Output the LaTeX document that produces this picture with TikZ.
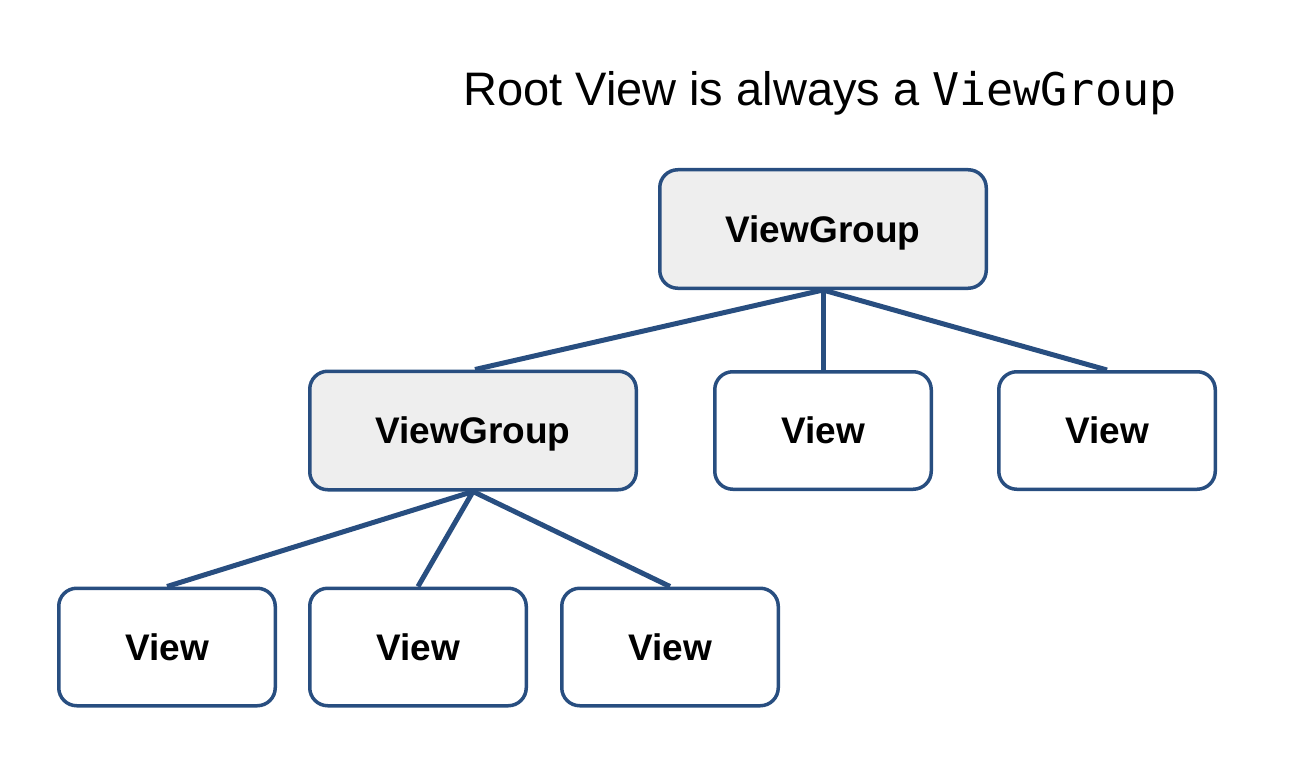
\documentclass[tikz,border=0pt]{standalone}
\usepackage{fontspec}
\setmainfont{Liberation Sans}
\newfontfamily\monofont{DejaVu Sans Mono}
\definecolor{edgeblue}{RGB}{40,78,128}
\definecolor{boxgray}{RGB}{238,238,238}
\begin{document}
\begin{tikzpicture}[x=1pt,y=-1pt,
  box/.style={draw=edgeblue, line width=3.5pt, rounded corners=18pt, font=\fontsize{37}{44}\selectfont\bfseries, inner sep=0pt, text depth=0pt},
  groupbox/.style={box, fill=boxgray, minimum width=326.5pt, minimum height=118.5pt},
  viewbox/.style={box, fill=white, minimum width=216.5pt, minimum height=117.5pt},
  link/.style={draw=edgeblue, line width=5pt}]
\useasboundingbox (0,0) rectangle (1305,770);
\node[anchor=base west, font=\fontsize{47}{56}\selectfont, inner sep=0pt] (title) at (463,106) {Root View is always a {\monofont\fontsize{45}{56}\selectfont ViewGroup}};
\node[groupbox] (root) at (823,229) {ViewGroup};
\node[groupbox] (vg) at (473,430.5) {ViewGroup};
\node[viewbox] (v1) at (823,430.5) {View};
\node[viewbox] (v2) at (1107,430.5) {View};
\node[viewbox] (b1) at (167,647) {View};
\node[viewbox] (b2) at (418,647) {View};
\node[viewbox] (b3) at (670,647) {View};
\draw[link] (root.south) -- ([xshift=2pt]vg.north);
\draw[link] (root.south) -- (v1.north);
\draw[link] (root.south) -- (v2.north);
\draw[link] (vg.south) -- (b1.north);
\draw[link] (vg.south) -- (b2.north);
\draw[link] (vg.south) -- (b3.north);
\end{tikzpicture}
\end{document}
